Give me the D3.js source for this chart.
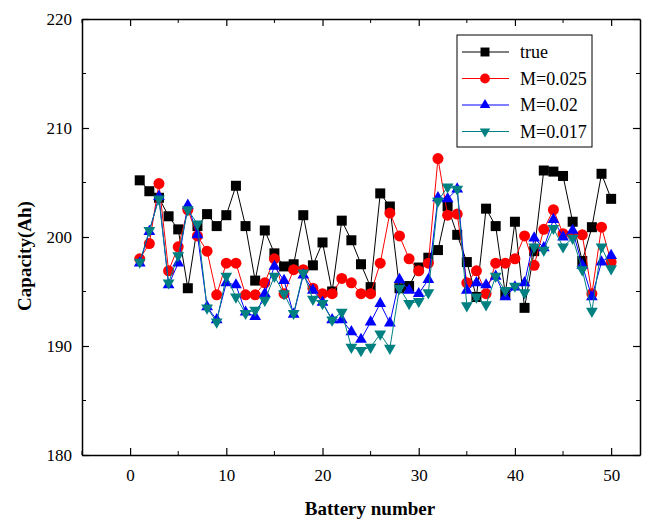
<!DOCTYPE html>
<html>
<head>
<meta charset="utf-8">
<script src="https://cdn.jsdelivr.net/npm/d3@7"></script>
<style>
  body { margin: 0; background: #fff; }
  text { font-family: "Liberation Serif", "Times New Roman", serif; }
</style>
</head>
<body>
<svg id="chart" width="654" height="522"></svg>
<script>
const battery = d3.range(1, 51);
const trueVals = [205.2, 204.2, 203.6, 201.9, 200.7, 195.3, 201.0, 202.1, 201.0, 202.0,
  204.7, 201.0, 196.0, 200.6, 198.5, 197.3, 197.5, 202.0, 197.4, 199.5,
  195.0, 201.5, 199.7, 197.5, 195.4, 204.0, 202.8, 195.3, 195.5, 197.2,
  198.1, 198.8, 202.8, 200.2, 197.7, 194.5, 202.6, 201.0, 194.8, 201.4,
  193.5, 198.7, 206.1, 206.0, 205.6, 201.4, 197.8, 200.9, 205.8, 203.5];
const m025 = [198.0, 199.4, 204.9, 196.9, 199.1, 202.5, 200.1, 198.7, 194.7, 197.6,
  197.6, 194.7, 194.7, 195.8, 198.0, 194.8, 197.0, 197.0, 195.3, 194.8,
  194.8, 196.2, 195.8, 194.8, 194.8, 197.6, 202.2, 200.1, 198.0, 196.9,
  197.6, 207.2, 202.0, 202.1, 195.8, 196.9, 194.8, 197.6, 197.6, 198.0,
  200.1, 197.4, 200.7, 202.5, 200.3, 200.2, 200.2, 194.8, 200.9, 197.7];
const m02 = [197.6, 200.5, 203.7, 195.6, 197.6, 202.9, 200.2, 193.6, 192.4, 195.8,
  195.6, 193.1, 192.7, 194.8, 197.3, 196.0, 192.9, 196.5, 195.1, 194.0,
  192.4, 192.4, 191.3, 190.6, 192.2, 193.9, 192.1, 196.1, 195.1, 194.8,
  196.1, 203.6, 203.5, 204.4, 195.1, 195.8, 195.6, 196.4, 194.5, 195.4,
  195.8, 199.9, 199.0, 201.6, 200.0, 200.6, 197.4, 194.5, 197.7, 198.3];
const m017 = [197.7, 200.6, 203.5, 195.8, 198.3, 202.5, 201.2, 193.5, 192.2, 196.4,
  194.5, 193.0, 193.3, 194.2, 196.4, 194.8, 193.0, 196.7, 194.3, 193.9,
  192.4, 193.1, 189.9, 189.6, 189.9, 191.1, 189.8, 195.3, 193.9, 194.1,
  194.9, 203.3, 204.6, 204.4, 193.7, 194.5, 193.8, 196.4, 195.1, 195.5,
  194.9, 199.1, 198.8, 200.8, 199.1, 199.9, 197.0, 193.2, 199.1, 197.1];
const seriesNames = ['true', 'M=0.025', 'M=0.02', 'M=0.017'];
const xTicks = [0, 10, 20, 30, 40, 50];
const yTicks = [180, 190, 200, 210, 220];

const svg = d3.select('#chart');
const margin = { top: 19, right: 14, bottom: 67, left: 82 };
const width = 654, height = 522;

const x = d3.scaleLinear().domain([-5, 53]).range([margin.left, width - margin.right]);
const y = d3.scaleLinear().domain([180, 220]).range([height - margin.bottom, margin.top]);

const series = [
  { name: seriesNames[0], values: trueVals, color: '#000000', shape: d3.symbolSquare, size: 100, rot: 0 },
  { name: seriesNames[1], values: m025, color: '#ff0000', shape: d3.symbolCircle, size: 95, rot: 0 },
  { name: seriesNames[2], values: m02, color: '#0000ff', shape: d3.symbolTriangle, size: 60, rot: 0 },
  { name: seriesNames[3], values: m017, color: '#008080', shape: d3.symbolTriangle, size: 60, rot: 180 }
];

const minorX = d3.range(-5, 54, 5).filter(v => v % 10 !== 0);
const minorY = d3.range(185, 220, 10);

// axes with inward ticks
const axBottom = svg.append('g')
  .attr('transform', `translate(0,${y.range()[0]})`)
  .call(d3.axisBottom(x).tickValues(xTicks).tickSizeInner(-7).tickSizeOuter(0).tickPadding(14));
const axLeft = svg.append('g')
  .attr('transform', `translate(${margin.left},0)`)
  .call(d3.axisLeft(y).tickValues(yTicks).tickSizeInner(-7).tickSizeOuter(0).tickPadding(10));
const axTop = svg.append('g')
  .attr('transform', `translate(0,${margin.top})`)
  .call(d3.axisTop(x).tickValues(xTicks).tickSizeInner(-7).tickSizeOuter(0).tickFormat(''));
const axRight = svg.append('g')
  .attr('transform', `translate(${width - margin.right},0)`)
  .call(d3.axisRight(y).tickValues(yTicks).tickSizeInner(-7).tickSizeOuter(0).tickFormat(''));

[axBottom, axLeft, axTop, axRight].forEach(g => {
  g.select('.domain').attr('stroke', '#000').attr('stroke-width', 1.5);
  g.selectAll('.tick line').attr('stroke-width', 1.2);
  g.selectAll('text').attr('font-size', 17).attr('fill', '#000')
    .style('font-family', '"Liberation Serif", "Times New Roman", serif');
});

// minor ticks
const minors = svg.append('g').attr('stroke', '#000').attr('stroke-width', 1);
minorX.forEach(v => {
  minors.append('line').attr('x1', x(v)).attr('x2', x(v)).attr('y1', y(180)).attr('y2', y(180) - 4);
  minors.append('line').attr('x1', x(v)).attr('x2', x(v)).attr('y1', y(220)).attr('y2', y(220) + 4);
});
minorY.forEach(v => {
  minors.append('line').attr('x1', x(-5)).attr('x2', x(-5) + 4).attr('y1', y(v)).attr('y2', y(v));
  minors.append('line').attr('x1', x(53)).attr('x2', x(53) - 4).attr('y1', y(v)).attr('y2', y(v));
});

// axis titles
svg.append('text')
  .attr('x', 370).attr('y', 515)
  .attr('text-anchor', 'middle')
  .attr('font-size', 19).attr('font-weight', 'bold')
  .text('Battery number');
svg.append('text')
  .attr('transform', 'translate(31,256) rotate(-90)')
  .attr('text-anchor', 'middle')
  .attr('font-size', 19).attr('font-weight', 'bold')
  .text('Capacity(Ah)');

// series
const line = d3.line().x((d, i) => x(battery[i])).y(d => y(d));
series.forEach(s => {
  svg.append('path')
    .datum(s.values)
    .attr('fill', 'none')
    .attr('stroke', s.color)
    .attr('stroke-width', 1)
    .attr('d', line);
  svg.append('g').selectAll('path')
    .data(s.values)
    .join('path')
    .attr('d', d3.symbol().type(s.shape).size(s.size))
    .attr('transform', (d, i) => `translate(${x(battery[i])},${y(d)}) rotate(${s.rot})`)
    .attr('fill', s.color);
});

// legend
const legend = svg.append('g').attr('transform', 'translate(457,35)');
legend.append('rect')
  .attr('width', 135).attr('height', 112)
  .attr('fill', '#fff').attr('stroke', '#000').attr('stroke-width', 1);
series.forEach((s, i) => {
  const ly = 17 + i * 26.5;
  legend.append('line').attr('x1', 5).attr('x2', 52).attr('y1', ly).attr('y2', ly)
    .attr('stroke', s.color).attr('stroke-width', 1);
  legend.append('path')
    .attr('d', d3.symbol().type(s.shape).size(s.size * 0.8))
    .attr('transform', `translate(28,${ly}) rotate(${s.rot})`)
    .attr('fill', s.color);
  legend.append('text')
    .attr('x', 63).attr('y', ly + 6)
    .attr('font-size', 18)
    .text(s.name);
});
</script>
</body>
</html>
